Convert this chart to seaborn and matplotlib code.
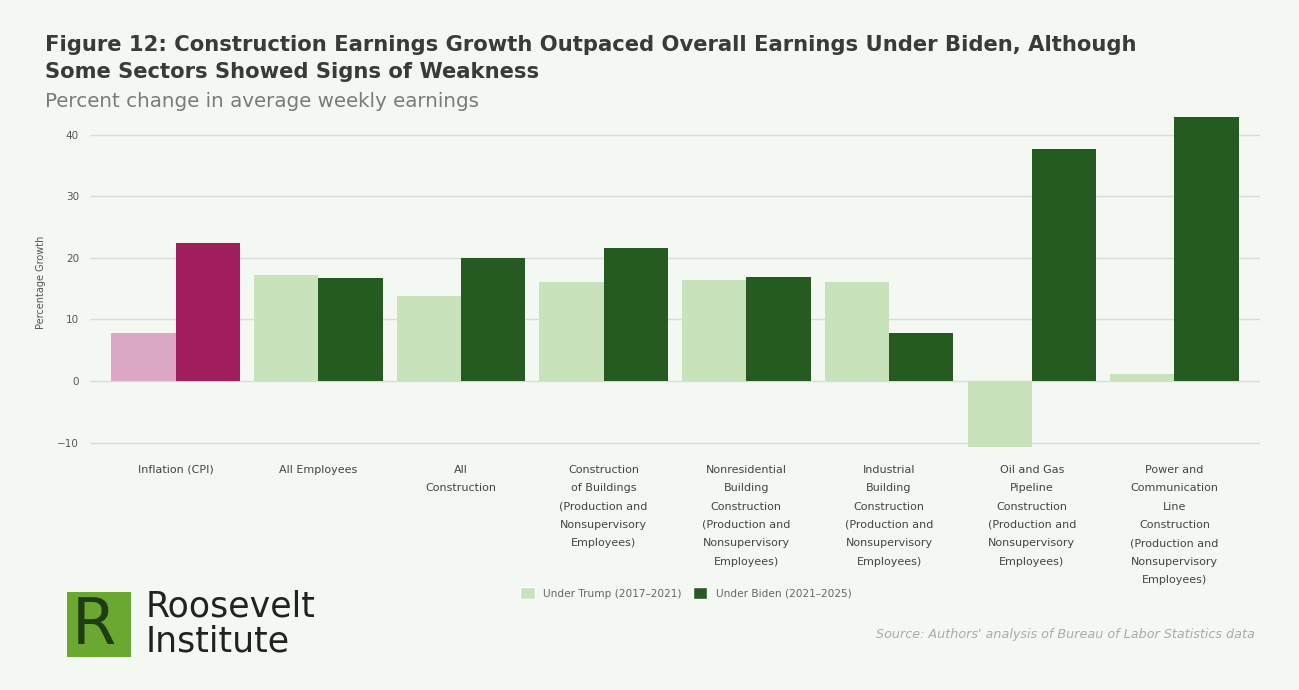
import pandas as pd
import matplotlib.pyplot as plt
import matplotlib.patches as mpatches
import seaborn as sns

# Data
categories = [
    'Inflation (CPI)',
    'All Employees',
    'All\nConstruction',
    'Construction\nof Buildings\n(Production and\nNonsupervisory\nEmployees)',
    'Nonresidential\nBuilding\nConstruction\n(Production and\nNonsupervisory\nEmployees)',
    'Industrial\nBuilding\nConstruction\n(Production and\nNonsupervisory\nEmployees)',
    'Oil and Gas\nPipeline\nConstruction\n(Production and\nNonsupervisory\nEmployees)',
    'Power and\nCommunication\nLine\nConstruction\n(Production and\nNonsupervisory\nEmployees)',
]
trump_values = [7.8, 17.2, 13.8, 16.1, 16.4, 16.1, -10.7, 1.1]
biden_values = [22.4, 16.7, 20.0, 21.6, 16.9, 7.8, 37.7, 42.9]
periods = ['Under Trump (2017\u20132021)', 'Under Biden (2021\u20132025)']

df = pd.DataFrame({
    'category': categories * 2,
    'period': [periods[0]] * len(categories) + [periods[1]] * len(categories),
    'growth': trump_values + biden_values,
})

bg = '#f4f8f3'
light_green = '#c8e2bc'
dark_green = '#255a21'
light_pink = '#dca7c5'
magenta = '#a11e5e'

sns.set_theme(style='white')
plt.rcParams['font.family'] = ['DejaVu Sans']

fig = plt.figure(figsize=(12.99, 6.90), dpi=100, facecolor=bg)
ax = fig.add_axes([0.0693, 0.3406, 0.9007, 0.50])
ax.set_facecolor(bg)

sns.barplot(data=df, x='category', y='growth', hue='period',
            palette=[light_green, dark_green], width=0.9, saturation=1,
            linewidth=0, ax=ax, legend=False)

# Inflation bars in pink/magenta
ax.containers[0][0].set_facecolor(light_pink)
ax.containers[1][0].set_facecolor(magenta)

ax.set_xlim(-0.6, 7.6)
ax.set_ylim(-12, 44)
ax.set_yticks([-10, 0, 10, 20, 30, 40])
ax.yaxis.grid(True, color='#dadcd9', linewidth=1)
ax.set_axisbelow(True)
for s in ax.spines.values():
    s.set_visible(False)
ax.tick_params(axis='y', labelsize=7.5, colors='#555555', length=0, pad=8)
ax.tick_params(axis='x', labelsize=8, colors='#444444', length=0, pad=7)
for lbl in ax.get_xticklabels():
    lbl.set_linespacing(2.05)
ax.set_xlabel('')
ax.set_ylabel('Percentage Growth', fontsize=7, color='#555555', labelpad=8)

# Titles
fig.text(0.035, 0.935, 'Figure 12: Construction Earnings Growth Outpaced Overall Earnings Under Biden, Although',
         fontsize=15.2, fontweight='bold', color='#3a3a3a', va='center')
fig.text(0.035, 0.895, 'Some Sectors Showed Signs of Weakness',
         fontsize=15.2, fontweight='bold', color='#3a3a3a', va='center')
fig.text(0.035, 0.853, 'Percent change in average weekly earnings',
         fontsize=14.3, color='#7a7a7a', va='center')

# Legend
handles = [mpatches.Patch(facecolor=light_green, label=periods[0]),
           mpatches.Patch(facecolor=dark_green, label=periods[1])]
fig.legend(handles=handles, loc='center', bbox_to_anchor=(0.528, 0.14), ncol=2,
           frameon=False, fontsize=7.6, labelcolor='#666666', handlelength=1.4,
           handleheight=1.4, columnspacing=1.0)

# Source
fig.text(0.966, 0.081, "Source: Authors' analysis of Bureau of Labor Statistics data",
         fontsize=9.2, style='italic', color='#aaaaaa', ha='right', va='center')

# Logo
logo_ax = fig.add_axes([0.0516, 0.048, 0.0493, 0.094])
logo_ax.set_facecolor('#6aa832')
logo_ax.set_xticks([])
logo_ax.set_yticks([])
for s in logo_ax.spines.values():
    s.set_visible(False)
logo_ax.text(0.42, 0.47, 'R', fontsize=46, color='#1f3d14', ha='center', va='center',
             transform=logo_ax.transAxes)
fig.text(0.112, 0.121, 'Roosevelt', fontsize=25, color='#222222', va='center')
fig.text(0.112, 0.071, 'Institute', fontsize=25, color='#222222', va='center')

plt.savefig('out.png', dpi=100, facecolor=bg)
plt.close()
